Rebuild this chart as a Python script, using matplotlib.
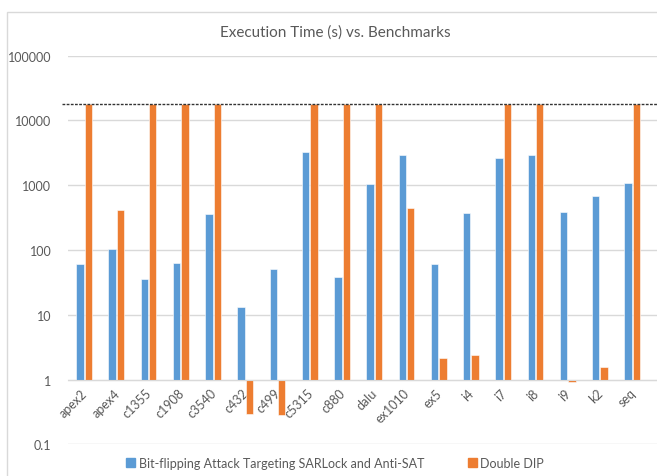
import numpy as np
import matplotlib
matplotlib.use("Agg")
from matplotlib import pyplot as plt
from matplotlib.patches import Rectangle, Patch
from matplotlib.transforms import ScaledTranslation

plt.rcParams['font.family'] = ['Lato', 'DejaVu Sans']

benchmarks = ["apex2", "apex4", "c1355", "c1908", "c3540", "c432", "c499", "c5315", "c880",
              "dalu", "ex1010", "ex5", "i4", "i7", "i8", "i9", "k2", "seq"]
bit_flipping = [60, 105, 36, 64, 365, 13, 50, 3250, 38,
                1040, 2950, 60, 370, 2650, 2950, 380, 680, 1085]
double_dip = [18000, 420, 18000, 18000, 18000, 0.29, 0.28, 18000, 18000,
              18000, 450, 2.17, 2.4, 18000, 18000, 0.92, 1.55, 18000]
timeout = 18000
yticks = [0.1, 1, 10, 100, 1000, 10000, 100000]

blue = "#5B9BD5"
orange = "#ED7D31"
grey = "#595959"

fig = plt.figure(figsize=(6.57, 4.77), dpi=100)
ax = fig.add_axes([68 / 657, 31.7 / 477, 1 - 68 / 657, (445.3 - 56.7) / 477])

x = np.arange(len(benchmarks))
w = 0.23
base = 1.0
ax.bar(x - 0.13, np.array(bit_flipping) - base, bottom=base, width=w, color=blue,
       edgecolor="white", linewidth=0.4, label="Bit-flipping Attack Targeting SARLock and Anti-SAT")
ax.bar(x + 0.13, np.array(double_dip) - base, bottom=base, width=w, color=orange,
       edgecolor="white", linewidth=0.4, label="Double DIP")

ax.set_yscale("log")
ax.set_ylim(0.1, 100000)
ax.set_xlim(-0.5, 17.77)
ax.set_yticks(yticks)
ax.set_yticklabels([f"{t:g}" for t in yticks])
ax.minorticks_off()
ax.yaxis.grid(True, color="#D9D9D9", linewidth=1)
ax.set_axisbelow(True)

ax.axhline(timeout, color="#333333", linestyle=(0, (2, 1)), linewidth=1, xmin=-0.01, clip_on=False)

for s in ["top", "right", "left"]:
    ax.spines[s].set_visible(False)
ax.spines["bottom"].set_position(("data", 1))
ax.spines["bottom"].set_color("#D9D9D9")
ax.set_xticks(x)
ax.set_xticklabels(benchmarks, rotation=45, ha="right", va="top", rotation_mode="anchor")
ax.tick_params(axis="both", length=0, labelsize=9, labelcolor=grey)
ax.tick_params(axis="y", pad=12)
ax.tick_params(axis="x", pad=5)
shift = ScaledTranslation(-3 / 100, 0, fig.dpi_scale_trans)
for lab in ax.get_xticklabels():
    lab.set_transform(lab.get_transform() + shift)
    lab.set_zorder(5)

fig.text(0.51, 0.932, "Execution Time (s) vs. Benchmarks", ha="center", va="center",
         fontsize=11, color=grey)

handles = [Patch(color=blue), Patch(color=orange)]
fig.legend(handles, ["Bit-flipping Attack Targeting SARLock and Anti-SAT", "Double DIP"],
           loc="center", bbox_to_anchor=(0.51, 13 / 477), ncol=2, frameon=False,
           fontsize=9, labelcolor=grey, handlelength=0.7, handleheight=0.7,
           handletextpad=0.3, columnspacing=3.5)

fig.patches.append(Rectangle((7.3 / 657, -0.1), 1.2, 1.1 - 12.7 / 477, transform=fig.transFigure,
                             fill=False, edgecolor="#D9D9D9", linewidth=1))

fig.savefig("out.png", dpi=100)
